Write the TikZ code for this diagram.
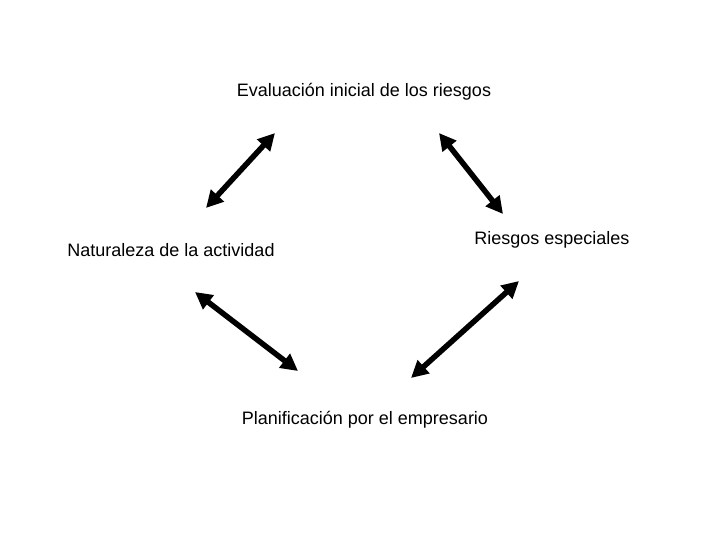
\documentclass[tikz,border=0pt]{standalone}
\usepackage{fontspec}
\setmainfont{Liberation Sans}
\usetikzlibrary{arrows.meta}
\begin{document}
\begin{tikzpicture}[x=1pt,y=-1pt,
  lbl/.style={inner sep=0pt,font=\fontsize{18}{21}\selectfont},
  dbl/.style={line width=5.5pt,{Triangle[length=17pt,width=17pt]}-{Triangle[length=17pt,width=17pt]}}]
\useasboundingbox (0,0) rectangle (720,540);
\node[lbl] (eval) at (364,92) {Evaluación inicial de los riesgos};
\node[lbl] (nat) at (171,250) {Naturaleza de la actividad};
\node[lbl] (ries) at (552,240) {Riesgos especiales};
\node[lbl] (plan) at (365,420) {Planificación por el empresario};
\coordinate (a1) at (275,133); \coordinate (b1) at (206,208);
\coordinate (a2) at (439,133); \coordinate (b2) at (503,214);
\coordinate (a3) at (195,292); \coordinate (b3) at (298,371);
\coordinate (a4) at (519,281); \coordinate (b4) at (411,378);
\draw[dbl] (a1) -- (b1);
\draw[dbl] (a2) -- (b2);
\draw[dbl] (a3) -- (b3);
\draw[dbl] (a4) -- (b4);
\end{tikzpicture}
\end{document}
